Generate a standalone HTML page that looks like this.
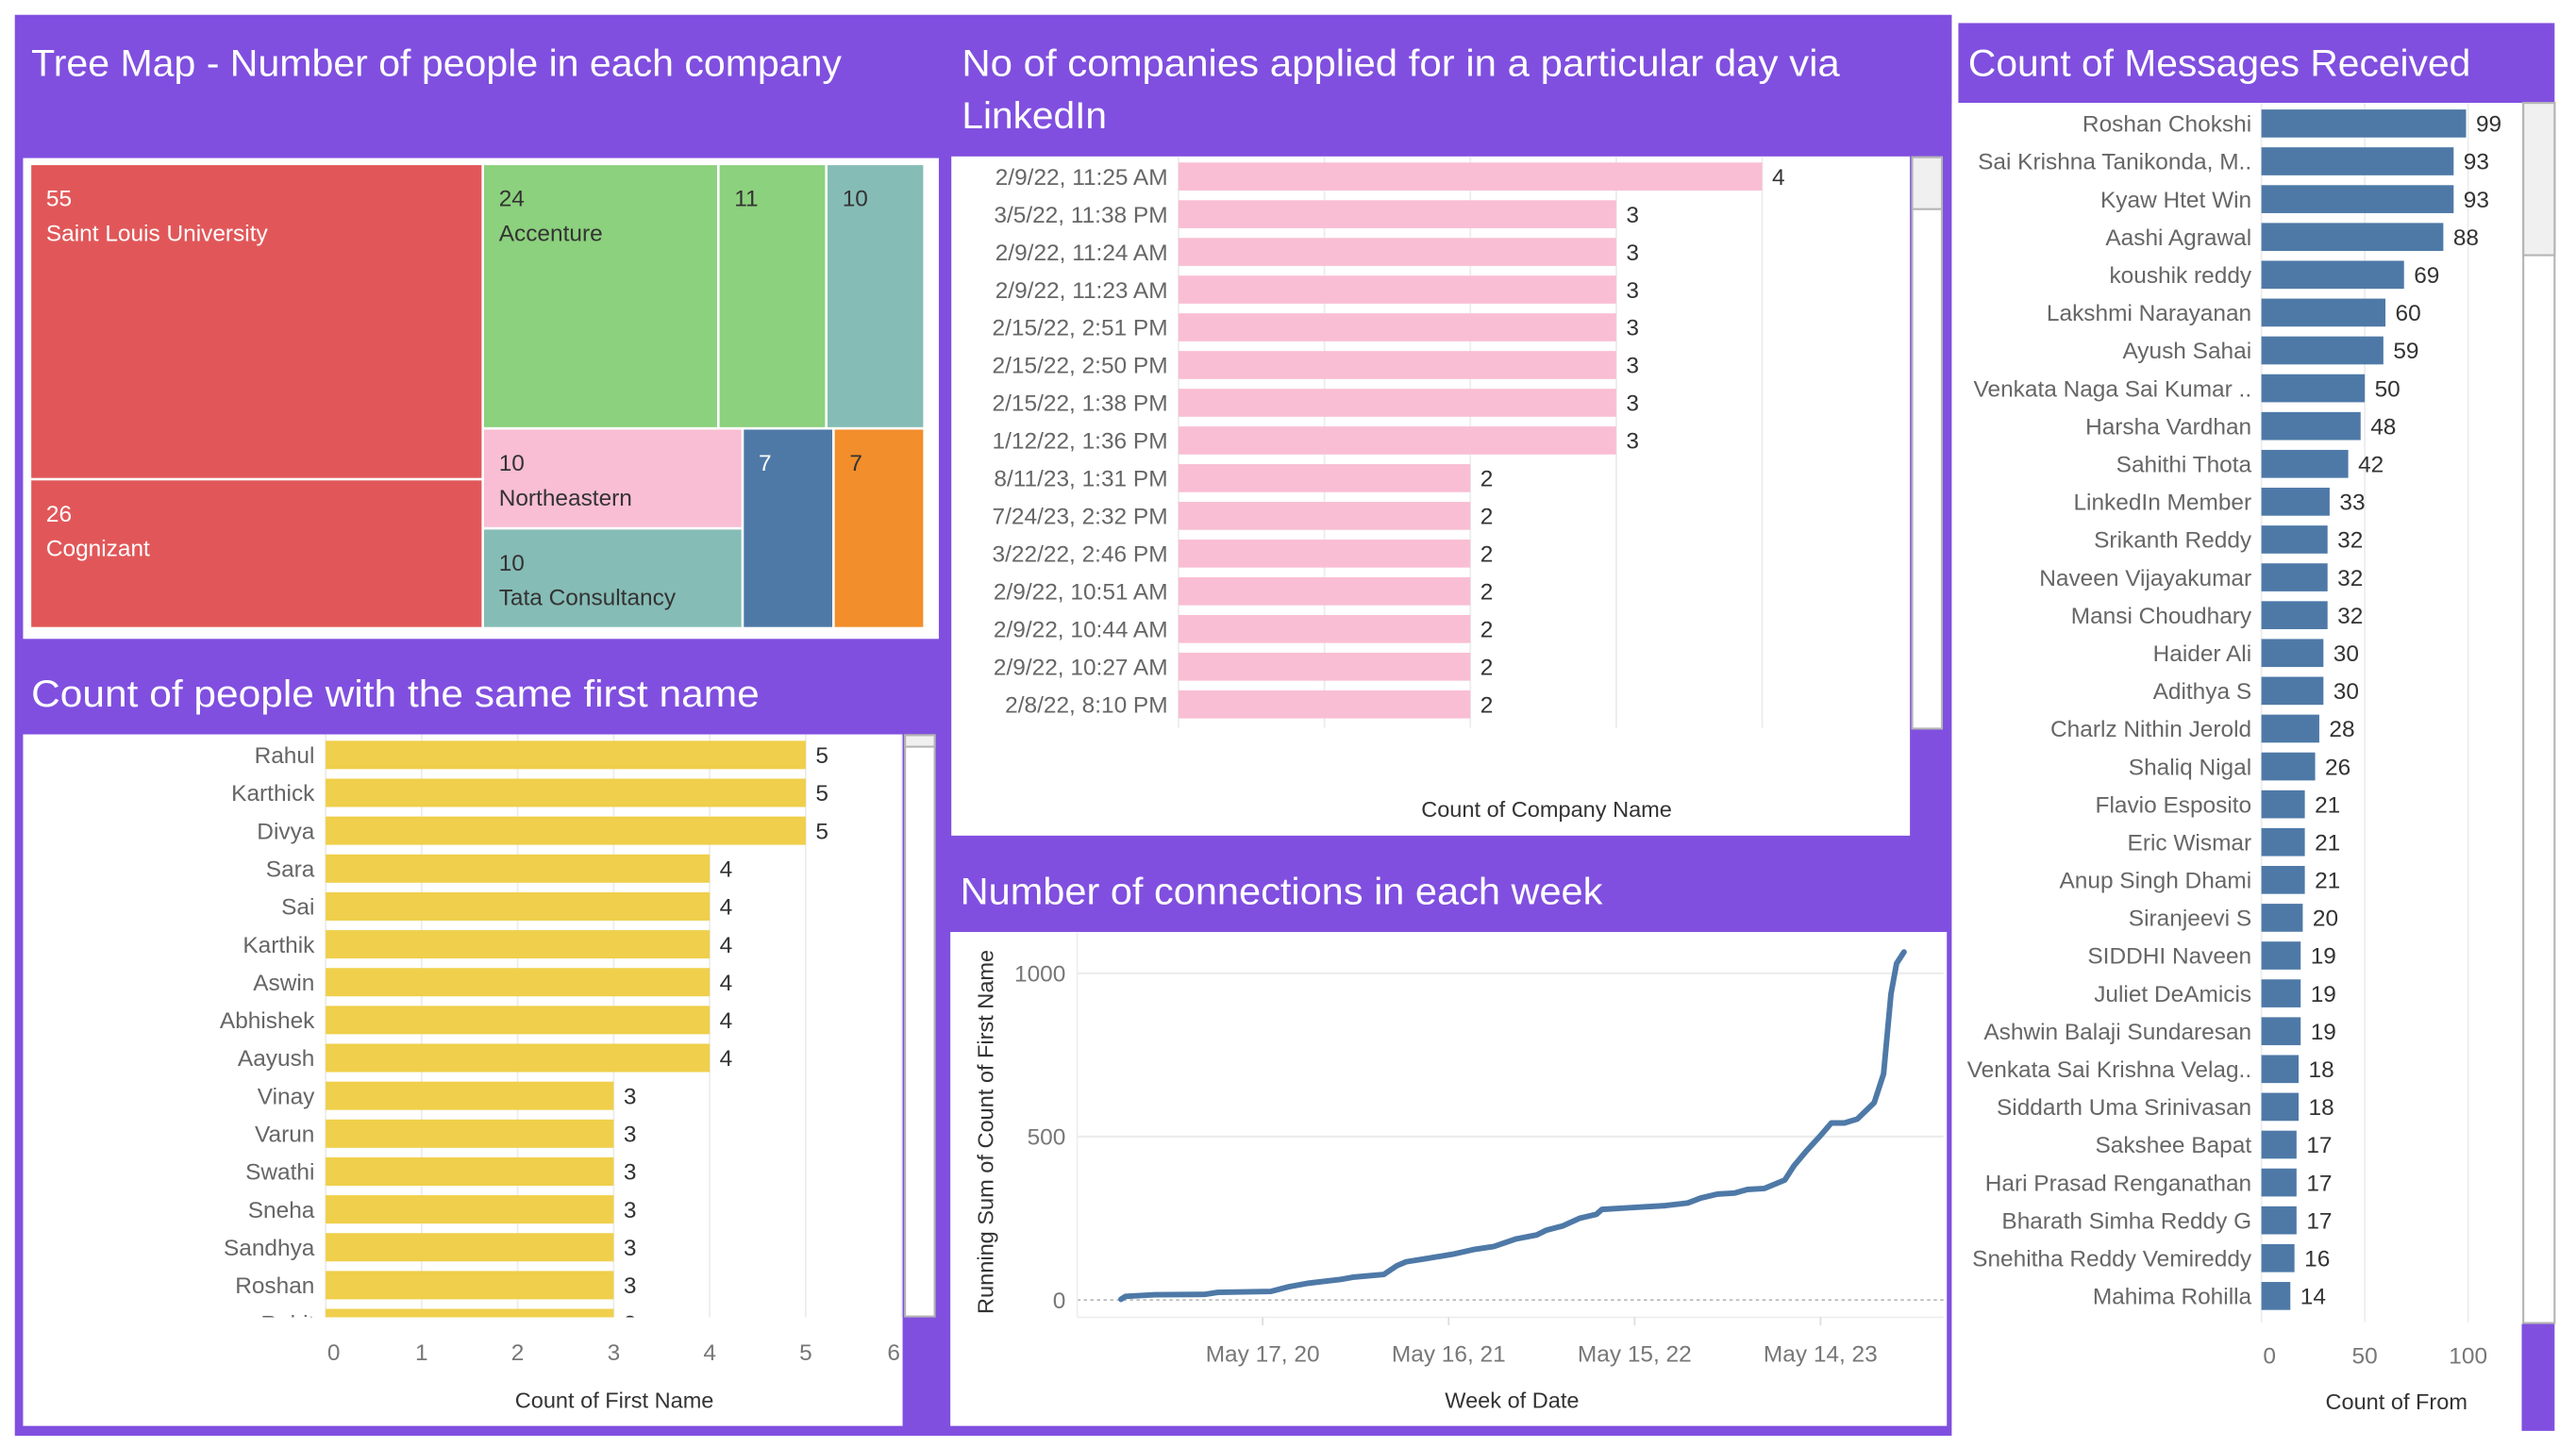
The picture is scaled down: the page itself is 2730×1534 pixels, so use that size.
<!DOCTYPE html>
<html><head><meta charset="utf-8">
<style>
html,body{margin:0;padding:0;background:#fff;width:2730px;height:1534px;overflow:hidden}
svg{display:block;font-family:"Liberation Sans",sans-serif}
</style></head>
<body>
<svg id="dash" width="2730" height="1534" viewBox="0 0 1564 878.8" preserveAspectRatio="none" xmlns="http://www.w3.org/2000/svg">
<rect x="0" y="0" width="1564" height="879" fill="#ffffff"/>
<rect x="9" y="9" width="1176" height="863" fill="#804fdf"/>
<rect x="1189" y="14" width="362" height="48.5" fill="#804fdf"/>
<rect x="1531" y="804" width="20" height="65" fill="#804fdf"/>
<rect x="14" y="96" width="556" height="292" fill="#fff"/>
<rect x="14" y="446" width="534" height="420" fill="#fff"/>
<rect x="577.6" y="95" width="582" height="412.5" fill="#fff"/>
<rect x="577" y="566" width="605" height="300" fill="#fff"/>
<rect x="1185" y="62.5" width="346" height="816" fill="#fff"/>
<g fill="#ffffff" font-size="23">
<text x="19" y="46" textLength="492" lengthAdjust="spacingAndGlyphs">Tree Map - Number of people in each company</text>
<text x="19" y="429" textLength="442" lengthAdjust="spacingAndGlyphs">Count of people with the same first name</text>
<text x="584" y="46" textLength="533" lengthAdjust="spacingAndGlyphs">No of companies applied for in a particular day via</text>
<text x="584" y="78" textLength="88" lengthAdjust="spacingAndGlyphs">LinkedIn</text>
<text x="583" y="549" textLength="390" lengthAdjust="spacingAndGlyphs">Number of connections in each week</text>
<text x="1195" y="46" textLength="305" lengthAdjust="spacingAndGlyphs">Count of Messages Received</text>
</g>
<rect x="549.5" y="446.5" width="18" height="353" fill="#fff" stroke="#b4b4b4" stroke-width="1.2"/>
<rect x="549.5" y="446.5" width="18" height="7" fill="#f0f0f0" stroke="#b4b4b4" stroke-width="1.2"/>
<rect x="1161" y="95.5" width="18" height="347" fill="#fff" stroke="#b4b4b4" stroke-width="1.2"/>
<rect x="1161" y="95.5" width="18" height="31.5" fill="#f0f0f0" stroke="#b4b4b4" stroke-width="1.2"/>
<rect x="1532" y="62.5" width="19" height="741" fill="#fff" stroke="#b4b4b4" stroke-width="1.2"/>
<rect x="1532" y="62.5" width="19" height="92.5" fill="#f0f0f0" stroke="#b4b4b4" stroke-width="1.2"/>
<g id="tm"></g><g id="fn"></g><g id="co"></g><g id="cn"></g><g id="ms"></g>
<defs>
<clipPath id="fnClip"><rect x="14" y="446" width="535" height="354"/></clipPath>
<clipPath id="cnClip"><rect x="577" y="566" width="605" height="300"/></clipPath>
<clipPath id="msClip"><rect x="1185" y="62.5" width="346" height="741"/></clipPath>
</defs>
</svg>
<script>
// ---------- DATA ----------
const tmNames = ["Saint Louis University","Cognizant","Accenture","","","Northeastern","Tata Consultancy","",""];
const tmValues = [55,26,24,11,10,10,10,7,7];
const tmColors = ["#e15759","#e15759","#8cd17d","#8cd17d","#86bcb6","#f9bed3","#86bcb6","#4e79a7","#f28e2b"];

const fnNames = ["Rahul","Karthick","Divya","Sara","Sai","Karthik","Aswin","Abhishek","Aayush","Vinay","Varun","Swathi","Sneha","Sandhya","Roshan","Rohit"];
const fnValues = [5,5,5,4,4,4,4,4,4,3,3,3,3,3,3,3];
const fnTicks = [0,1,2,3,4,5,6];

const coNames = ["2/9/22, 11:25 AM","3/5/22, 11:38 PM","2/9/22, 11:24 AM","2/9/22, 11:23 AM","2/15/22, 2:51 PM","2/15/22, 2:50 PM","2/15/22, 1:38 PM","1/12/22, 1:36 PM","8/11/23, 1:31 PM","7/24/23, 2:32 PM","3/22/22, 2:46 PM","2/9/22, 10:51 AM","2/9/22, 10:44 AM","2/9/22, 10:27 AM","2/8/22, 8:10 PM"];
const coValues = [4,3,3,3,3,3,3,3,2,2,2,2,2,2,2];
const coTicks = [0,1,2,3,4];

const cnYears = [2019.615,2019.64,2019.80,2020.065,2020.135,2020.42,2020.51,2020.615,2020.795,2020.865,2021.025,2021.095,2021.145,2021.235,2021.395,2021.505,2021.615,2021.735,2021.845,2021.895,2021.985,2022.075,2022.165,2022.195,2022.355,2022.535,2022.655,2022.725,2022.815,2022.905,2022.975,2023.065,2023.175,2023.225,2023.295,2023.365,2023.425,2023.495,2023.565,2023.655,2023.705,2023.745,2023.775,2023.815];
const cnValues = [2,11,16,17,23,26,40,51,63,70,78,105,117,125,140,154,164,187,199,213,227,250,262,277,283,289,297,312,324,327,338,341,367,411,458,502,542,542,554,604,692,937,1030,1065];
const cnYTicks = [0,500,1000];
const cnXTickYears = [2020.375,2021.373,2022.370,2023.367];
const cnXTickLabels = ["May 17, 20","May 16, 21","May 15, 22","May 14, 23"];

const msNames = ["Roshan Chokshi","Sai Krishna Tanikonda,  M..","Kyaw Htet Win","Aashi Agrawal","koushik reddy","Lakshmi Narayanan","Ayush Sahai","Venkata Naga Sai Kumar ..","Harsha Vardhan","Sahithi Thota","LinkedIn Member","Srikanth Reddy","Naveen Vijayakumar","Mansi Choudhary","Haider Ali","Adithya S","Charlz Nithin Jerold","Shaliq Nigal","Flavio Esposito","Eric Wismar","Anup Singh Dhami","Siranjeevi S","SIDDHI Naveen","Juliet DeAmicis","Ashwin Balaji Sundaresan","Venkata Sai Krishna Velag..","Siddarth Uma Srinivasan","Sakshee Bapat","Hari Prasad Renganathan","Bharath Simha Reddy G","Snehitha Reddy Vemireddy","Mahima Rohilla"];
const msValues = [99,93,93,88,69,60,59,50,48,42,33,32,32,32,30,30,28,26,21,21,21,20,19,19,19,18,18,17,17,17,16,14];
const msTicks = [0,50,100];

// ---------- HELPERS ----------
const NS = "http://www.w3.org/2000/svg";
function mk(tag, attrs, parent){
  const e = document.createElementNS(NS, tag);
  for (const k in attrs) e.setAttribute(k, attrs[k]);
  parent.appendChild(e);
  return e;
}
function txt(str, attrs, parent){
  const e = mk("text", attrs, parent);
  e.textContent = str;
  return e;
}

// ---------- TREEMAP ----------
(function(){
  const g = document.getElementById("tm");
  const tree = {dir:"h", kids:[
    {dir:"v", kids:[0,1]},
    {dir:"v", kids:[
      {dir:"h", kids:[2,3,4]},
      {dir:"h", kids:[{dir:"v", kids:[5,6]},7,8]}
    ]}
  ]};
  function sum(n){ return typeof n === "number" ? tmValues[n] : n.kids.reduce((a,k)=>a+sum(k),0); }
  function layout(n, x, y, w, h){
    if (typeof n === "number"){ drawCell(n, x, y, w, h); return; }
    const tot = sum(n); let off = 0;
    n.kids.forEach(k=>{
      const f = sum(k)/tot;
      if (n.dir === "h"){ layout(k, x+off, y, w*f, h); off += w*f; }
      else { layout(k, x, y+off, w, h*f); off += h*f; }
    });
  }
  function drawCell(i, x, y, w, h){
    const r = mk("rect", {x:x, y:y, width:Math.max(0,w-1.5), height:Math.max(0,h-1.5), fill:tmColors[i]}, g);
    
    
    const light = (tmColors[i] === "#e15759" || tmColors[i] === "#4e79a7");
    const col = light ? "#ffffff" : "#333333";
    const t1 = txt(String(tmValues[i]), {x:x+9, y:y+25, "font-size":14, fill:col}, g);
    
    
    if (tmNames[i]){
      const t2 = txt(tmNames[i], {x:x+9, y:y+46, "font-size":14, fill:col}, g);
      
      
    }
  }
  layout(tree, 19, 100.3, 543, 282);
})();

// ---------- HORIZONTAL BAR CHART ----------
function barChart(cfg){
  const g = document.getElementById(cfg.id);
  const grid = mk("g", {}, g);
  const inner = mk("g", cfg.clip ? {"clip-path":"url(#"+cfg.clip+")"} : {}, g);
  const xs = v => cfg.x0 + v*cfg.k;
  cfg.ticks.forEach(t=>{
    const l = mk("line", {x1:xs(t), x2:xs(t), y1:cfg.top, y2:cfg.bottom, stroke:"#ececec", "stroke-width":1}, grid);
    
    
  });
  cfg.names.forEach((n,i)=>{
    const cy = cfg.y0 + i*cfg.pitch;
    const b = mk("rect", {x:xs(0), y:cy-cfg.bh/2, width:cfg.values[i]*cfg.k, height:cfg.bh, fill:cfg.color}, inner);
    
    
    const lb = txt(n, {x:cfg.labelX, y:cy+5, "text-anchor":"end", "font-size":cfg.fs, fill:"#666"}, inner);
    
    
    const vl = txt(String(cfg.values[i]), {x:xs(cfg.values[i])+6, y:cy+5, "font-size":cfg.fs, fill:"#333"}, inner);
    
    
  });
  if (cfg.tickY){
    cfg.ticks.forEach((t,i)=>{
      const anchor = i===0 ? "start" : (cfg.lastEnd && i===cfg.ticks.length-1 ? "end" : "middle");
      const tx = i===0 ? xs(t)+1 : (anchor==="end" ? xs(t)-1 : xs(t));
      const tl = txt(String(t), {x:tx, y:cfg.tickY, "text-anchor":anchor, "font-size":14, fill:"#777"}, g);
      
      
    });
  }
  const at = txt(cfg.title, {x:cfg.titleX, y:cfg.titleY, "text-anchor":"middle", "font-size":13.5, fill:"#333"}, g);
  
  
}
barChart({id:"fn", names:fnNames, values:fnValues, ticks:fnTicks, x0:197.7, k:58.3, y0:458.5, pitch:23, bh:17.2,
  top:446, bottom:800, labelX:191, fs:14, color:"#efcf4b", clip:"fnClip", tickY:826, lastEnd:true,
  title:"Count of First Name", titleX:373, titleY:855});
barChart({id:"co", names:coNames, values:coValues, ticks:coTicks, x0:715.5, k:88.6, y0:107.2, pitch:22.9, bh:17,
  top:95, bottom:442, labelX:709, fs:14, color:"#f9bed3", clip:null, tickY:null,
  title:"Count of Company Name", titleX:939, titleY:496});
barChart({id:"ms", names:msNames, values:msValues, ticks:msTicks, x0:1373, k:1.255, y0:75, pitch:22.97, bh:17,
  top:62.5, bottom:803, labelX:1367, fs:14, color:"#4e79a7", clip:"msClip", tickY:828, lastEnd:false,
  title:"Count of From", titleX:1455, titleY:856});

// ---------- LINE CHART ----------
(function(){
  const g = document.getElementById("cn");
  const xs = yr => 766.6 + (yr-2020.375)*113.2;
  const ys = v => 789.5 - v*0.1984;
  const left = 654, right = 1180, axisY = 800;
  cnYTicks.forEach(t=>{
    if (t>0){
      const l = mk("line", {x1:left, x2:right, y1:ys(t), y2:ys(t), stroke:"#ececec", "stroke-width":1.2}, g);
      
      
    }
    const tl = txt(String(t), {x:647, y:ys(t)+5, "text-anchor":"end", "font-size":14, fill:"#777"}, g);
    
    
  });
  const z = mk("line", {x1:left, x2:right, y1:ys(0), y2:ys(0), stroke:"#bbbbbb", "stroke-width":1, "stroke-dasharray":"2,2"}, g);
  
  
  const ax = mk("line", {x1:left, x2:right, y1:axisY, y2:axisY, stroke:"#eeeeee", "stroke-width":1}, g);
  
  
  const ay = mk("line", {x1:left, x2:left, y1:566, y2:axisY, stroke:"#eeeeee", "stroke-width":1}, g);
  
  
  cnXTickYears.forEach((yr,i)=>{
    const tk = mk("line", {x1:xs(yr), x2:xs(yr), y1:axisY, y2:axisY+5, stroke:"#dddddd"}, g);
    
    
    const tl = txt(cnXTickLabels[i], {x:xs(yr), y:827, "text-anchor":"middle", "font-size":14, fill:"#777"}, g);
    
    
  });
  const d = cnYears.map((yr,i)=>(i?"L":"M")+xs(yr).toFixed(1)+","+ys(cnValues[i]).toFixed(1)).join(" ");
  const p = mk("path", {d:d, fill:"none", stroke:"#4e79a7", "stroke-width":3.4, "stroke-linejoin":"round", "stroke-linecap":"round"}, g);
  
  
  const clipG = mk("g", {"clip-path":"url(#cnClip)"}, g);
  const yt = txt("Running Sum of Count of First Name", {x:0, y:0, "font-size":13.5, fill:"#333",
    transform:"translate(603,798) rotate(-90)", "text-anchor":"start"}, clipG);
  
  
  const xt = txt("Week of Date", {x:918, y:855, "text-anchor":"middle", "font-size":13.5, fill:"#333"}, g);
  
  
})();
</script>
</body></html>
